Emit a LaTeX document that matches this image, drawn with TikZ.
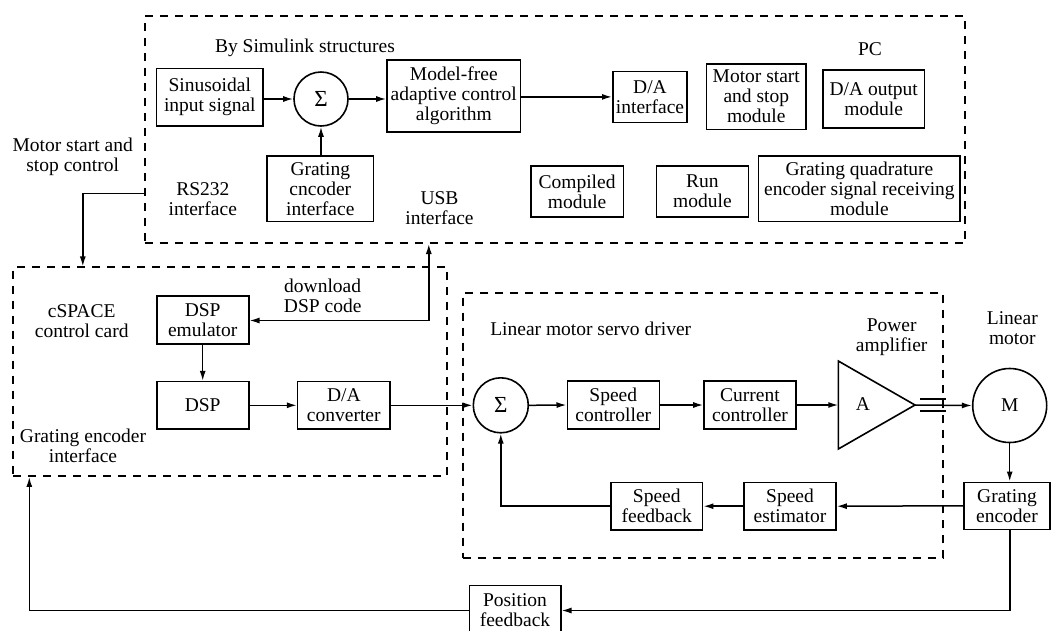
\documentclass[tikz,border=0pt]{standalone}
\usepackage{fontspec}
\setmainfont{Liberation Serif}
\usetikzlibrary{arrows.meta,calc}
\begin{document}
\begin{tikzpicture}[x=1pt,y=-1pt,
  every node/.style={font=\fontsize{19.5}{20}\selectfont, inner sep=0pt, align=center},
  box/.style={draw, line width=1.6pt},
  sumc/.style={draw, circle, line width=1.6pt, minimum size=54pt, font=\fontsize{23}{23}\selectfont},
  dbox/.style={draw, line width=1.8pt, dash pattern=on 8pt off 7pt},
  conn/.style={line width=1.5pt},
  arr/.style={conn, -{Latex[length=10pt,width=6pt]}}
]
\useasboundingbox (0,0) rectangle (1053,630);
% dashed frames
\node[dbox, minimum width=820.6pt, minimum height=227pt] (pc) at (555,129.6) {};
\node[dbox, minimum width=434pt, minimum height=208.7pt] (cs) at (230,371.7) {};
\node[dbox, minimum width=480.6pt, minimum height=264.4pt] (sv) at (703,425.5) {};
% labels
\node (bys) at (305,48) {By Simulink structures};
\node (pclbl) at (870,49) {PC};
\node (mssc) at (72.7,157) {Motor start and\\stop control};
\node (rs) at (202.8,198.8) {RS232\\interface};
\node (usb) at (439.5,208) {USB\\interface};
\node (dl) at (322.7,296) {download\\DSP code};
\node (csl) at (81.7,321) {cSPACE\\control card};
\node (gei) at (83,446) {Grating encoder\\interface};
\node (lmsd) at (590.7,329.3) {Linear motor servo driver};
\node (pa) at (891.7,336.7) {Power\\amplifier};
\node (lm) at (1012.3,328) {Linear\\motor};
% PC blocks
\node[box, minimum width=106.5pt, minimum height=57.8pt] (sin) at (209.8,97.2) {Sinusoidal\\input signal};
\node[sumc] (s1) at (321,99) {Σ};
\node[box, minimum width=133.6pt, minimum height=71.6pt] (mf) at (453.8,96) {Model-free\\adaptive control\\algorithm};
\node[box, minimum width=74.4pt, minimum height=51pt] (dai) at (650,96.9) {D/A\\interface};
\node[box, minimum width=99.3pt, minimum height=65.6pt] (mssm) at (756.3,96.7) {Motor start\\and stop\\module};
\node[box, minimum width=101.6pt, minimum height=57.8pt] (dao) at (873.7,98.9) {D/A output\\module};
\node[box, minimum width=106.6pt, minimum height=65.2pt] (gci) at (320.3,188.8) {Grating\\cncoder\\interface};
\node[box, minimum width=92.4pt, minimum height=51pt] (cm) at (577.1,191.4) {Compiled\\module};
\node[box, minimum width=92.1pt, minimum height=51pt] (rm) at (702.4,191.4) {Run\\module};
\node[box, minimum width=201.6pt, minimum height=65.3pt] (gq) at (859.4,188.7) {Grating quadrature\\encoder signal receiving\\module};
% control card
\node[box, minimum width=92pt, minimum height=48pt] (dspe) at (202.7,320) {DSP\\emulator};
\node[box, minimum width=92pt, minimum height=47.3pt] (dsp) at (202.7,405.3) {DSP};
\node[box, minimum width=92.3pt, minimum height=47.3pt] (dac) at (343.8,405.3) {D/A\\converter};
% servo driver
\node[sumc, minimum size=55pt] (s2) at (500.8,405.3) {Σ};
\node[box, minimum width=92pt, minimum height=48.3pt] (sc) at (613.3,405) {Speed\\controller};
\node[box, minimum width=92pt, minimum height=48pt] (cc) at (750,405) {Current\\controller};
\coordinate (ampl) at (838.3,405);
\coordinate (ampt) at (915,405);
\draw[line width=1.6pt, line join=miter] (838.3,361) -- (ampt) -- (838.3,449) -- cycle;
\node (amp) at (863,404) {A};
\node[draw, circle, line width=1.6pt, minimum size=74pt] (m) at (1009.7,405.5) {M};
\node[box, minimum width=86pt, minimum height=47pt] (ge) at (1007,505.8) {Grating\\encoder};
\node[box, minimum width=92pt, minimum height=47.7pt] (se) at (790,506.2) {Speed\\estimator};
\node[box, minimum width=91.7pt, minimum height=47.7pt] (sf) at (656.8,506.2) {Speed\\feedback};
\node[box, minimum width=91.4pt, minimum height=50pt] (pf) at (515,610.5) {Position\\feedback};
% connectors
\draw[arr] (sin.east |- s1) -- (s1.west);
\draw[arr] (s1.east) -- (s1.east -| mf.west);
\draw[arr] (mf.east |- dai) -- (dai.west);
\draw[arr] (s1 |- gci.north) -- (s1.south);
\coordinate (c1) at (82.8,193.4);
\draw[arr] (pc.west |- c1) -- (c1) -- (c1 |- cs.north);
\coordinate (c2) at (428.8,320.5);
\draw[arr] (c2) -- (c2 |- pc.south);
\draw[arr] (c2) -- (dspe.east |- c2);
\draw[arr] (dspe.south) -- (dsp.north);
\draw[arr] (dsp.east) -- (dac.west);
\draw[arr] (dac.east) -- (s2.west);
\draw[arr] (s2.east) -- (sc.west);
\draw[arr] (sc.east) -- (cc.west);
\draw[arr] (cc.east) -- (ampl);
\draw[conn] (920,399) -- (946,399);
\draw[conn] (920,411) -- (946,411);
\draw[arr] (ampt) -- (m.west);
\draw[arr] (m.south) -- (m.south |- ge.north);
\draw[arr] (ge.west) -- (se.east);
\draw[arr] (se.west) -- (sf.east);
\draw[arr] (sf.west) -- (s2 |- sf.west) -- (s2.south);
\coordinate (c3) at (1010,610.5);
\draw[arr] (c3 |- ge.south) -- (c3) -- (pf.east);
\coordinate (c4) at (29.3,610.5);
\draw[arr] (pf.west) -- (c4) -- (c4 |- cs.south);
\end{tikzpicture}
\end{document}
